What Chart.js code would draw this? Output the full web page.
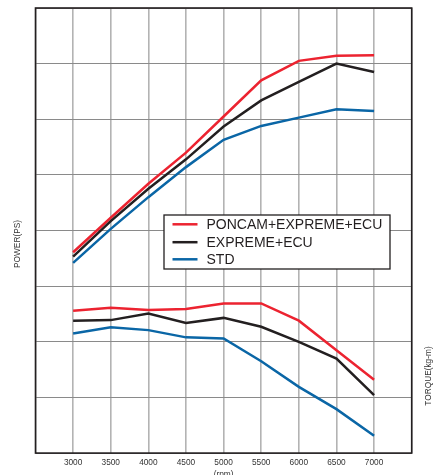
<!DOCTYPE html>
<html>
<head>
<meta charset="utf-8">
<script src="https://cdn.jsdelivr.net/npm/chart.js@4.4.1/dist/chart.umd.min.js"></script>
<style>
  html, body { margin: 0; padding: 0; background: #fff; }
  #wrap { width: 435px; height: 475px; }
</style>
</head>
<body>
<div id="wrap"><canvas id="chart"></canvas></div>
<script>
// rpm points
const rpm = [3000, 3500, 4000, 4500, 5000, 5500, 6000, 6500, 7000];

// values in grid units (8 divisions, no scale printed on the original)
const powerPoncam  = [3.61, 4.23, 4.84, 5.40, 6.05, 6.70, 7.05, 7.14, 7.15];
const powerExpreme = [3.53, 4.17, 4.75, 5.28, 5.87, 6.34, 6.67, 7.00, 6.85];
const powerStd     = [3.42, 4.03, 4.60, 5.14, 5.63, 5.88, 6.03, 6.18, 6.15];

const torquePoncam  = [2.56, 2.61, 2.57, 2.59, 2.69, 2.69, 2.38, 1.85, 1.32];
const torqueExpreme = [2.38, 2.39, 2.51, 2.34, 2.43, 2.27, 2.00, 1.70, 1.04];
const torqueStd     = [2.15, 2.26, 2.21, 2.08, 2.06, 1.65, 1.19, 0.79, 0.31];

const seriesNames = ['PONCAM+EXPREME+ECU', 'EXPREME+ECU', 'STD'];
const colors = ['#ec2330', '#231f20', '#0a66a6'];

const textColor = '#231f20';
const fontFamily = '"Liberation Sans", Arial, sans-serif';

function pts(values) {
    return values.map((v, i) => ({ x: rpm[i], y: v }));
}

function line(label, values, color, inLegend) {
    return {
        label: label,
        data: pts(values),
        borderColor: color,
        backgroundColor: color,
        borderWidth: 2.5,
        pointRadius: 0,
        tension: 0,
        inLegend: inLegend
    };
}

const datasets = [
    line(seriesNames[2], powerStd, colors[2], true),
    line(seriesNames[1], powerExpreme, colors[1], true),
    line(seriesNames[0], powerPoncam, colors[0], true),
    line(seriesNames[2], torqueStd, colors[2], false),
    line(seriesNames[1], torqueExpreme, colors[1], false),
    line(seriesNames[0], torquePoncam, colors[0], false)
];

// frame, side titles and the boxed legend
const decorations = {
    id: 'decorations',
    afterDraw(chart) {
        const ctx = chart.ctx;
        const a = chart.chartArea;
        ctx.save();

        ctx.strokeStyle = textColor;
        ctx.lineWidth = 1.6;
        ctx.strokeRect(a.left, a.top, a.right - a.left, a.bottom - a.top);

        ctx.fillStyle = '#333';
        ctx.font = '8.3px ' + fontFamily;
        ctx.textAlign = 'center';
        ctx.textBaseline = 'middle';
        ctx.save();
        ctx.translate(18, 244);
        ctx.rotate(-Math.PI / 2);
        ctx.fillText('POWER(PS)', 0, 0);
        ctx.restore();
        ctx.save();
        ctx.translate(428.5, 376);
        ctx.rotate(-Math.PI / 2);
        ctx.fillText('TORQUE(kg-m)', 0, 0);
        ctx.restore();

        // legend
        const bx = 164, by = 215, bw = 226, bh = 54;
        ctx.fillStyle = '#fff';
        ctx.fillRect(bx, by, bw, bh);
        ctx.lineWidth = 1.3;
        ctx.strokeStyle = textColor;
        ctx.strokeRect(bx, by, bw, bh);

        const items = chart.data.datasets.filter(d => d.inLegend).reverse();
        const rows = [224.3, 242.2, 259.3];
        ctx.font = '14px ' + fontFamily;
        ctx.textAlign = 'left';
        items.forEach((d, i) => {
            ctx.strokeStyle = d.borderColor;
            ctx.lineWidth = 2.5;
            ctx.beginPath();
            ctx.moveTo(172.5, rows[i]);
            ctx.lineTo(197.5, rows[i]);
            ctx.stroke();
            ctx.fillStyle = textColor;
            ctx.fillText(d.label, 206.5, rows[i] + 0.5);
        });
        ctx.restore();
    }
};

new Chart(document.getElementById('chart'), {
    type: 'line',
    data: { datasets: datasets },
    options: {
        responsive: true,
        maintainAspectRatio: false,
        animation: false,
        layout: { padding: { left: 35.5, top: 8, right: 23.3, bottom: -5 } },
        plugins: {
            legend: { display: false },
            tooltip: { enabled: false }
        },
        scales: {
            x: {
                type: 'linear',
                min: 2500,
                max: 7500,
                border: { display: false },
                grid: { color: '#b3b3b3', lineWidth: 1.6, drawTicks: false },
                ticks: {
                    stepSize: 500,
                    padding: 5,
                    color: '#333',
                    font: { family: fontFamily, size: 8.3 },
                    maxRotation: 0,
                    callback: v => (v === 2500 || v === 7500) ? '' : String(v)
                },
                title: {
                    display: true,
                    text: '(rpm)',
                    color: '#333',
                    padding: { top: -3, bottom: 0 },
                    font: { family: fontFamily, size: 8.3 }
                }
            },
            y: {
                min: 0,
                max: 8,
                border: { display: false },
                grid: { color: '#8a8a8a', lineWidth: 1, drawTicks: false },
                ticks: { display: false, stepSize: 1 }
            }
        }
    },
    plugins: [decorations]
});
</script>
</body>
</html>
